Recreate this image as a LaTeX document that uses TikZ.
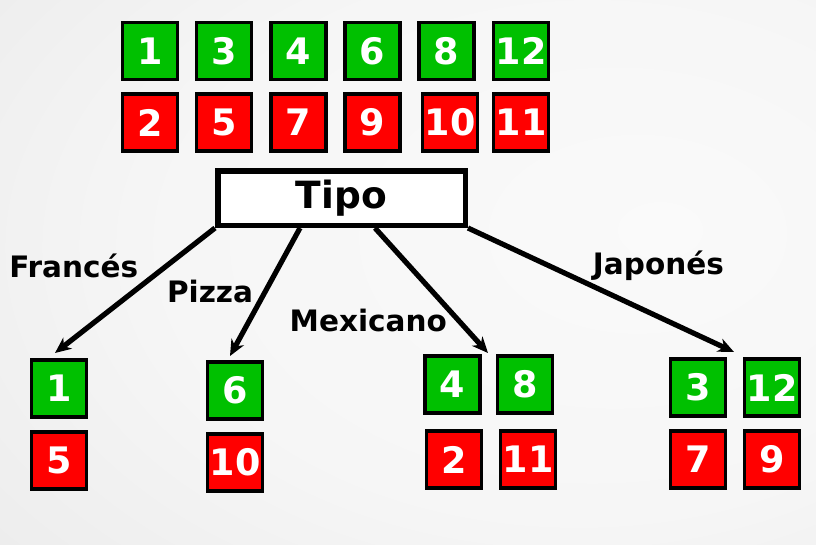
\documentclass[tikz,border=0pt]{standalone}
\usepackage{fontspec}
\setmainfont{DejaVu Sans}
\usetikzlibrary{arrows.meta}
\definecolor{boxgreen}{RGB}{0,192,0}
\definecolor{boxred}{RGB}{255,0,0}
\pgfdeclareradialshading{bgshade}{\pgfpoint{16bp}{4bp}}{color(0bp)=(white!98!black); color(25bp)=(white!96.5!black); color(75bp)=(white!86!black)}
\tikzset{
  box/.style={draw=black, line width=3.5pt, minimum width=55pt, minimum height=57pt, inner sep=0pt, text=white, font=\fontsize{36.5}{37}\selectfont\bfseries},
  gbox/.style={box, fill=boxgreen},
  rbox/.style={box, fill=boxred},
  tipobox/.style={draw=black, line width=5.5pt, fill=white, minimum width=247.5pt, minimum height=54.5pt, inner sep=0pt, font=\fontsize{37.5}{38}\selectfont\bfseries},
  lbl/.style={font=\fontsize{29.5}{30}\selectfont\bfseries, anchor=base, inner sep=0pt},
  arr/.style={line width=5.2pt, -{Stealth[length=16pt,width=14pt,inset=5pt]}},
}
\begin{document}
\begin{tikzpicture}[x=1pt,y=-1pt]
\fill[shading=bgshade] (0,0) rectangle (816,544);
% top rows
\node[gbox] (t1) at (150,51) {1};
\node[gbox] (t3) at (224,51) {3};
\node[gbox] (t4) at (298.5,51) {4};
\node[gbox] (t6) at (372.5,51) {6};
\node[gbox] (t8) at (446.5,51) {8};
\node[gbox] (t12) at (521,51) {12};
\node[rbox] (t2) at (150,122.5) {2};
\node[rbox] (t5) at (224,122.5) {5};
\node[rbox] (t7) at (298.5,122.5) {7};
\node[rbox] (t9) at (372.5,122.5) {9};
\node[rbox] (t10) at (450,122.5) {10};
\node[rbox] (t11) at (521,122.5) {11};
% Tipo
\node[tipobox] (tipo) at (341.5,198) {Tipo};
% bottom groups
\node[gbox] (f1) at (59,388.5) {1};
\node[rbox] (f5) at (59,460.5) {5};
\node[gbox] (p6) at (235,390.5) {6};
\node[rbox] (p10) at (235,462.5) {10};
\node[gbox] (m4) at (452.5,384.5) {4};
\node[gbox] (m8) at (525,384.5) {8};
\node[rbox] (m2) at (454,459.5) {2};
\node[rbox] (m11) at (528,459.5) {11};
\node[gbox] (j3) at (698,387.5) {3};
\node[gbox] (j12) at (772,387.5) {12};
\node[rbox] (j7) at (698,459.5) {7};
\node[rbox] (j9) at (772,459.5) {9};
% labels
\node[lbl] (lfr) at (73.7,277.7) {Francés};
\node[lbl] (lpz) at (210,302.3) {Pizza};
\node[lbl] (lmx) at (368.3,331) {Mexicano};
\node[lbl] (ljp) at (658.4,274.3) {Japonés};
% arrow coordinates
\coordinate (pzs) at (300,228);
\coordinate (mxs) at (375,228);
\coordinate (fre) at (55,353);
\coordinate (pze) at (230,356);
\coordinate (mxe) at (488,353);
\coordinate (jpe) at (734,352);
\draw[arr] (tipo.south west) -- (fre);
\draw[arr] (pzs) -- (pze);
\draw[arr] (mxs) -- (mxe);
\draw[arr] (tipo.south east) -- (jpe);
\end{tikzpicture}
\end{document}
